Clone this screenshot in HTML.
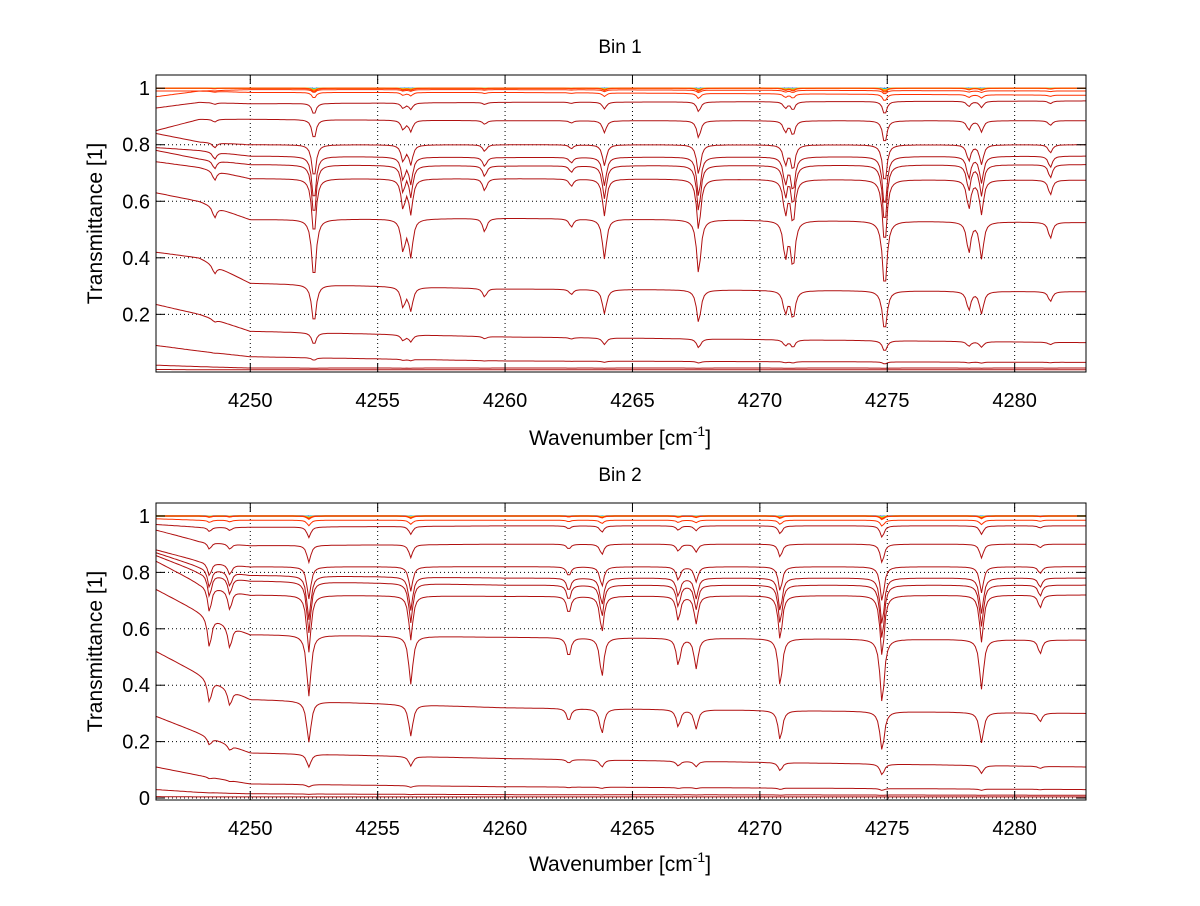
<!DOCTYPE html>
<html><head><meta charset="utf-8"><style>
body{margin:0;background:#fff}
svg text{font-family:"Liberation Sans",sans-serif;fill:#000}
</style></head><body>
<svg id="chart" width="1200" height="901">
<rect width="1200" height="901" fill="#fff"/>
</svg>
<script>
// ---- data ----
const xTicks = [4250,4255,4260,4265,4270,4275,4280];
const yTicks1 = [0.2,0.4,0.6,0.8,1];
const yTicks2 = [0,0.2,0.4,0.6,0.8,1];
const knotX = [4246.3,4248,4250,4260,4282.8];
// bin 1 baselines at knotX, and line-strength scales
const bin1Base = [
 [.99,.99,.995,.995,.99],[.97,.99,.985,.985,.975],[.93,.95,.945,.95,.955],
 [.85,.89,.89,.885,.885],[.84,.81,.80,.80,.80],[.79,.78,.76,.755,.76],
 [.78,.75,.73,.725,.73],[.74,.72,.68,.68,.675],[.63,.60,.535,.54,.525],
 [.42,.40,.31,.29,.28],[.235,.20,.14,.12,.10],[.09,.07,.05,.035,.03],
 [.02,.015,.01,.01,.01],[.005,.004,.004,.004,.004]];
const bin1Scale = [.01,.02,.04,.076,.15,.22,.27,.33,.47,.55,.35,.2,.1,0];
const bin1LinePos = [4248.6,4252.5,4256.0,4256.3,4259.2,4262.6,4263.9,4267.6,4271.0,4271.3,4274.9,4278.2,4278.7,4281.4];
const bin1LineStr = [0.15,1.1,0.5,0.6,0.2,0.12,0.65,0.95,0.6,0.8,1.3,0.5,0.6,0.25];
// bin 2
const bin2Base = [
 [1,1,1,1,1],[.99,.985,.985,.985,.985],[.97,.96,.96,.965,.965],
 [.95,.91,.895,.90,.90],[.88,.84,.82,.82,.82],[.87,.82,.79,.78,.78],
 [.86,.80,.77,.755,.755],[.84,.76,.72,.715,.72],[.74,.66,.58,.57,.56],
 [.52,.44,.35,.32,.30],[.29,.23,.16,.14,.11],[.11,.08,.05,.04,.03],
 [.03,.02,.015,.012,.01],[.005,.004,.004,.004,.004]];
const bin2Scale = [.01,.02,.04,.07,.15,.22,.27,.33,.47,.55,.35,.2,.1,0];
const bin2LinePos = [4248.4,4249.2,4252.3,4256.3,4262.5,4263.8,4266.8,4267.5,4270.8,4274.8,4278.7,4281.0];
const bin2LineStr = [0.4,0.3,1.0,0.75,0.28,0.6,0.4,0.45,0.75,1.1,0.8,0.2];
// near-unity colored curves (jet colours)
const topColors = ['#0000ff','#00a0ff','#00e0e0','#80ff80','#e0e000','#ffc000','#ff8000','#ff4000'];
const topScales = [.001,.002,.003,.004,.005,.006,.008,.012];

const NS='http://www.w3.org/2000/svg';
const svg=document.getElementById('chart');
function mk(t,a,p){const e=document.createElementNS(NS,t);for(const k in a)e.setAttribute(k,a[k]);(p||svg).appendChild(e);return e;}
const X0=156,X1=1086,XMIN=4246.3,XMAX=4282.8;
const sx=v=>X0+(v-XMIN)/(XMAX-XMIN)*(X1-X0);

function interpBase(b,x){
 for(let i=0;i<knotX.length-1;i++){if(x<=knotX[i+1]){const t=(x-knotX[i])/(knotX[i+1]-knotX[i]);return b[i]+(b[i+1]-b[i])*t;}}
 return b[b.length-1];
}
function tau(x,pos,str){let s=0;const g=0.09;for(let i=0;i<pos.length;i++){const d=x-pos[i];s+=str[i]*g*g/(d*d+g*g);}return s;}

function panel(name,top,bottom,ymin,ymax,yTicks,title,bases,scales,lp,ls,titleY,xlabY){
 const sy=v=>bottom-(v-ymin)/(ymax-ymin)*(bottom-top);
 const g=mk('g',{});
 
 
 xTicks.forEach(t=>{const l=mk('line',{x1:sx(t),x2:sx(t),y1:top,y2:bottom,stroke:'#000','stroke-dasharray':'1,3','stroke-width':1},g);
  });
 yTicks.forEach(t=>{const l=mk('line',{x1:X0,x2:X1,y1:sy(t),y2:sy(t),stroke:'#000','stroke-dasharray':'1,3','stroke-width':1},g);
  });
 const clip=mk('clipPath',{id:'c'+name},g);mk('rect',{x:X0,y:top,width:X1-X0,height:bottom-top},clip);
 const cg=mk('g',{'clip-path':'url(#c'+name+')'},g);
 function curve(base,scale,color,w){
  let d='';
  for(let x=XMIN;x<=XMAX+0.001;x+=0.08){const v=interpBase(base,x)*Math.exp(-scale*tau(x,lp,ls));d+=(d?'L':'M')+sx(x).toFixed(1)+','+sy(v).toFixed(1);}
  const p=mk('path',{d:d,fill:'none',stroke:color,'stroke-width':w},cg);
  
  
 }
 topColors.forEach((c,i)=>curve([1,1.0,1,1,1],topScales[i],c,1.2));
 bases.forEach((b,i)=>curve(b,scales[i],i<2?'#ff3000':'#b01010',1));
 const bx=mk('rect',{x:X0,y:top,width:X1-X0,height:bottom-top,fill:'none',stroke:'#000','stroke-width':1},g);
 
 xTicks.forEach(t=>{mk('line',{x1:sx(t),x2:sx(t),y1:bottom,y2:bottom-9,stroke:'#000'},g);mk('line',{x1:sx(t),x2:sx(t),y1:top,y2:top+9,stroke:'#000'},g);
  const tx=mk('text',{x:sx(t),y:bottom+35,'font-size':20,'text-anchor':'middle'},g);tx.textContent=t;
  });
 yTicks.forEach(t=>{mk('line',{x1:X0,x2:X0+9,y1:sy(t),y2:sy(t),stroke:'#000'},g);mk('line',{x1:X1,x2:X1-9,y1:sy(t),y2:sy(t),stroke:'#000'},g);
  const tx=mk('text',{x:X0-6,y:sy(t)+7,'font-size':20,'text-anchor':'end'},g);tx.textContent=String(t);
  });
 const tt=mk('text',{x:620,y:titleY,'font-size':19,'text-anchor':'middle'},g);tt.textContent=title;
 
 const xl=mk('text',{x:620,y:xlabY,'font-size':21,'text-anchor':'middle'},g);
 xl.innerHTML='Wavenumber [cm<tspan dy="-9" font-size="14">-1</tspan><tspan dy="9">]</tspan>';
 
 const cy=(top+bottom)/2;
 const yl=mk('text',{x:102,y:cy,'font-size':21,'text-anchor':'middle',transform:'rotate(-90 102 '+cy+')'},g);yl.textContent='Transmittance [1]';
 
}
panel('bin1-panel',75,372,-0.004,1.0467,yTicks1,'Bin 1',bin1Base,bin1Scale,bin1LinePos,bin1LineStr,53,445);
panel('bin2-panel',503,800,-0.007,1.046,yTicks2,'Bin 2',bin2Base,bin2Scale,bin2LinePos,bin2LineStr,481,871);
</script>
</body></html>
